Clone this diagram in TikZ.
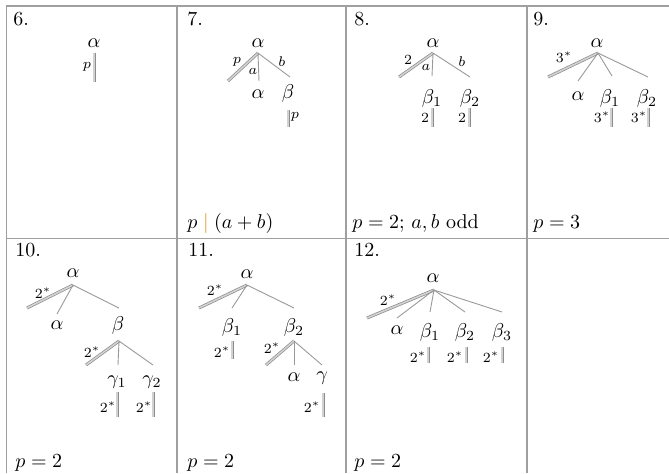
\documentclass[tikz,border=0pt]{standalone}
\usepackage{amsmath}
\definecolor{pipe}{RGB}{222,150,20}
\begin{document}
\begin{tikzpicture}[x=0.5pt,y=-0.5pt,
  grid/.style={draw=gray!75,line width=0.6pt},
  num/.style={anchor=base west,inner sep=0pt},
  v/.style={inner sep=0pt},
  lab/.style={inner sep=0pt,font=\scriptsize},
  edge/.style={draw=gray!80,line width=0.45pt},
  dbl/.style={draw=gray!90,double=gray!35,line width=0.35pt,double distance=0.8pt}]
\useasboundingbox (0,0) rectangle (669,473);
% grid
\draw[grid] (6,6) -- (669,6);
\draw[grid] (6,238.5) -- (669,238.5);
\foreach \x in {6.5,177,346,527} \draw[grid] (\x,6) -- (\x,473);

% ---- cell 6
\node[num] (n6) at (13,25) {6.};
\node[v] (a6) at (94,43) {$\alpha$};
\coordinate (t6) at (94,53); \coordinate (b6) at (94,82);
\draw[dbl] (t6) -- (b6);
\node[lab] (p6) at (87,67) {$p$};

% ---- cell 7
\node[num] (n7) at (187,25) {7.};
\node[v] (a7) at (258,43) {$\alpha$};
\coordinate (r7) at (258,53);
\coordinate (e7a) at (228,81); \coordinate (e7b) at (259,81); \coordinate (e7c) at (290,77);
\draw[dbl] (r7) -- (e7a);
\draw[edge] (r7) -- (e7b);
\draw[edge] (r7) -- (e7c);
\node[lab] (l7a) at (237,62) {$p$};
\node[lab] (l7b) at (253,71) {$a$};
\node[lab] (l7c) at (282,62) {$b$};
\node[v] (c7a) at (258,94) {$\alpha$};
\node[v] (c7b) at (288,93) {$\beta$};
\coordinate (t7) at (288,110); \coordinate (u7) at (288,127);
\draw[dbl] (t7) -- (u7);
\node[lab] (p7) at (295,117) {$p$};
\node[num] (f7) at (187,228) {$p \mathrel{\textcolor{pipe}{|}} (a+b)$};

% ---- cell 8
\node[num] (n8) at (354,25) {8.};
\node[v] (a8) at (433,43) {$\alpha$};
\coordinate (r8) at (433,53);
\coordinate (e8a) at (399,77); \coordinate (e8b) at (432,76); \coordinate (e8c) at (470,77);
\draw[dbl] (r8) -- (e8a);
\draw[edge] (r8) -- (e8b);
\draw[edge] (r8) -- (e8c);
\node[lab] (l8a) at (408,60) {$2$};
\node[lab] (l8b) at (426,67) {$a$};
\node[lab] (l8c) at (462,62) {$b$};
\node[v] (c8a) at (432,98) {$\beta_1$};
\node[v] (c8b) at (470,98) {$\beta_2$};
\coordinate (t8a) at (432,108); \coordinate (u8a) at (432,127);
\coordinate (t8b) at (469,108); \coordinate (u8b) at (469,127);
\draw[dbl] (t8a) -- (u8a);
\draw[dbl] (t8b) -- (u8b);
\node[lab] (m8a) at (425,118) {$2$};
\node[lab] (m8b) at (462,118) {$2$};
\node[num] (f8) at (352,228) {$p=2$; $a,b$ odd};

% ---- cell 9
\node[num] (n9) at (533,25) {9.};
\node[v] (a9) at (597,43) {$\alpha$};
\coordinate (r9) at (598,53);
\coordinate (e9a) at (548,77); \coordinate (e9b) at (578,81);
\coordinate (e9c) at (612,76); \coordinate (e9d) at (648,77);
\draw[dbl] (r9) -- (e9a);
\draw[edge] (r9) -- (e9b);
\draw[edge] (r9) -- (e9c);
\draw[edge] (r9) -- (e9d);
\node[lab] (l9a) at (564,57) {$3^*$};
\node[v] (c9a) at (578,96) {$\alpha$};
\node[v] (c9b) at (610,98) {$\beta_1$};
\node[v] (c9c) at (647,98) {$\beta_2$};
\coordinate (t9b) at (611,108); \coordinate (u9b) at (611,127);
\coordinate (t9c) at (648,108); \coordinate (u9c) at (648,127);
\draw[dbl] (t9b) -- (u9b);
\draw[dbl] (t9c) -- (u9c);
\node[lab] (m9b) at (602,117) {$3^*$};
\node[lab] (m9c) at (639,117) {$3^*$};
\node[num] (f9) at (533,228) {$p=3$};

% ---- cell 10
\node[num] (n10) at (15,256) {10.};
\node[v] (a10) at (73,273) {$\alpha$};
\coordinate (r10) at (73,285);
\coordinate (e10a) at (27,308); \coordinate (e10b) at (57,314); \coordinate (e10c) at (119,308);
\draw[dbl] (r10) -- (e10a);
\draw[edge] (r10) -- (e10b);
\draw[edge] (r10) -- (e10c);
\node[lab] (l10a) at (43,293) {$2^*$};
\node[v] (c10a) at (57,325) {$\alpha$};
\node[v] (c10b) at (118,325) {$\beta$};
\coordinate (s10) at (119,341);
\coordinate (g10a) at (86,365); \coordinate (g10b) at (118,365); \coordinate (g10c) at (153,365);
\draw[dbl] (s10) -- (g10a);
\draw[edge] (s10) -- (g10b);
\draw[edge] (s10) -- (g10c);
\node[lab] (l10b) at (92,352) {$2^*$};
\node[v] (d10a) at (117,382) {$\gamma_1$};
\node[v] (d10b) at (152,382) {$\gamma_2$};
\coordinate (t10a) at (117,392); \coordinate (u10a) at (117,417);
\coordinate (t10b) at (153,392); \coordinate (u10b) at (153,417);
\draw[dbl] (t10a) -- (u10a);
\draw[dbl] (t10b) -- (u10b);
\node[lab] (m10a) at (108,407) {$2^*$};
\node[lab] (m10b) at (144,407) {$2^*$};
\node[num] (f10) at (15,467) {$p=2$};

% ---- cell 11
\node[num] (n11) at (188,256) {11.};
\node[v] (a11) at (247,274) {$\alpha$};
\coordinate (r11) at (247,285);
\coordinate (e11a) at (199,308); \coordinate (e11b) at (232,308); \coordinate (e11c) at (294,308);
\draw[dbl] (r11) -- (e11a);
\draw[edge] (r11) -- (e11b);
\draw[edge] (r11) -- (e11c);
\node[lab] (l11a) at (215,290) {$2^*$};
\node[v] (c11a) at (232,327) {$\beta_1$};
\node[v] (c11b) at (294,327) {$\beta_2$};
\coordinate (t11a) at (232,341); \coordinate (u11a) at (232,359);
\draw[dbl] (t11a) -- (u11a);
\node[lab] (m11a) at (222,352) {$2^*$};
\coordinate (s11) at (294,341);
\coordinate (g11a) at (266,365); \coordinate (g11b) at (294,365); \coordinate (g11c) at (322,365);
\draw[dbl] (s11) -- (g11a);
\draw[edge] (s11) -- (g11b);
\draw[edge] (s11) -- (g11c);
\node[lab] (l11b) at (272,348) {$2^*$};
\node[v] (d11a) at (294,377) {$\alpha$};
\node[v] (d11b) at (322,378) {$\gamma$};
\coordinate (t11b) at (323,393); \coordinate (u11b) at (323,417);
\draw[dbl] (t11b) -- (u11b);
\node[lab] (m11b) at (312,407) {$2^*$};
\node[num] (f11) at (187,467) {$p=2$};

% ---- cell 12
\node[num] (n12) at (354,256) {12.};
\node[v] (a12) at (433,278) {$\alpha$};
\coordinate (r12) at (434,290);
\coordinate (e12a) at (367,318); \coordinate (e12b) at (397,318);
\coordinate (e12c) at (430,312); \coordinate (e12d) at (465,312); \coordinate (e12e) at (502,312);
\draw[dbl] (r12) -- (e12a);
\draw[edge] (r12) -- (e12b);
\draw[edge] (r12) -- (e12c);
\draw[edge] (r12) -- (e12d);
\draw[edge] (r12) -- (e12e);
\node[lab] (l12a) at (388,300) {$2^*$};
\node[v] (c12a) at (397,330) {$\alpha$};
\node[v] (c12b) at (430,332) {$\beta_1$};
\node[v] (c12c) at (465,332) {$\beta_2$};
\node[v] (c12d) at (502,332) {$\beta_3$};
\coordinate (t12b) at (428,347); \coordinate (u12b) at (428,363);
\coordinate (t12c) at (466,347); \coordinate (u12c) at (466,363);
\coordinate (t12d) at (502,347); \coordinate (u12d) at (502,363);
\draw[dbl] (t12b) -- (u12b);
\draw[dbl] (t12c) -- (u12c);
\draw[dbl] (t12d) -- (u12d);
\node[lab] (m12b) at (418,357) {$2^*$};
\node[lab] (m12c) at (455,357) {$2^*$};
\node[lab] (m12d) at (491,357) {$2^*$};
\node[num] (f12) at (354,467) {$p=2$};
\end{tikzpicture}
\end{document}
